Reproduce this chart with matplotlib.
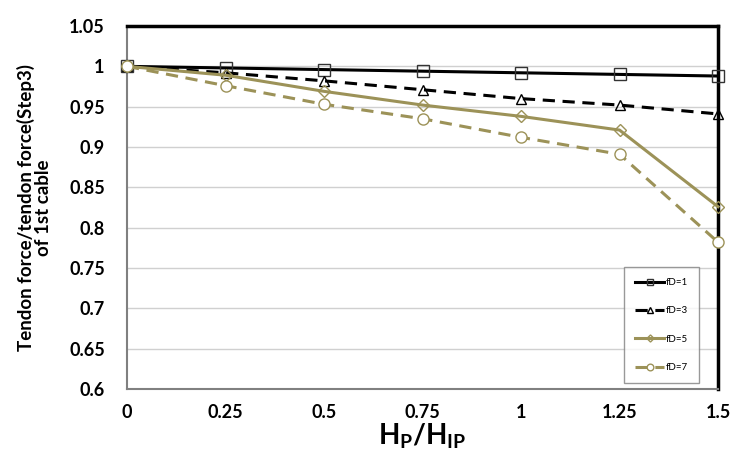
import matplotlib
matplotlib.use("Agg")
import matplotlib.pyplot as plt

x = [0, 0.25, 0.5, 0.75, 1, 1.25, 1.5]
fd1 = [1.0, 0.998, 0.996, 0.994, 0.992, 0.990, 0.988]
fd3 = [1.0, 0.992, 0.982, 0.971, 0.960, 0.952, 0.941]
fd5 = [1.0, 0.989, 0.969, 0.952, 0.938, 0.921, 0.826]
fd7 = [1.0, 0.976, 0.953, 0.935, 0.912, 0.891, 0.782]
labels = ["fD=1", "fD=3", "fD=5", "fD=7"]
xticks = [0, 0.25, 0.5, 0.75, 1, 1.25, 1.5]
xticklabels = ["0", "0.25", "0.5", "0.75", "1", "1.25", "1.5"]
yticks = [0.6, 0.65, 0.7, 0.75, 0.8, 0.85, 0.9, 0.95, 1.0, 1.05]
yticklabels = ["0.6", "0.65", "0.7", "0.75", "0.8", "0.85", "0.9", "0.95", "1", "1.05"]

plt.rcParams['font.family'] = ['Lato', 'DejaVu Sans']
plt.rcParams['mathtext.fontset'] = 'custom'
plt.rcParams['mathtext.bf'] = 'Lato:bold'
plt.rcParams['mathtext.rm'] = 'Lato'
olive = '#9c9258'

fig = plt.figure(figsize=(7.45, 4.62), dpi=100)
ax = fig.add_axes([0.1705, 0.158, 0.7933, 0.7857])

ax.plot(x, fd1, color='black', lw=2.2, ls='-', marker='s', ms=8, mfc='none', mec='#333333', mew=1.0, label=labels[0], clip_on=False, zorder=5)
ax.plot(x, fd3, color='black', lw=2.2, ls=(0, (4, 2.5)), marker='^', ms=7, mfc='none', mec='black', mew=1.0, label=labels[1], clip_on=False, zorder=5)
ax.plot(x, fd5, color=olive, lw=2.2, ls='-', marker='D', ms=6, mfc='none', mec=olive, mew=1.0, label=labels[2], clip_on=False, zorder=5)
ax.plot(x, fd7, color=olive, lw=2.2, ls=(0, (4, 2.5)), marker='o', ms=8, mfc='white', mec=olive, mew=1.0, label=labels[3], clip_on=False, zorder=5)

ax.set_xlim(0, 1.5)
ax.set_ylim(0.6, 1.05)
ax.set_xticks(xticks)
ax.set_xticklabels(xticklabels, fontsize=13, fontweight='bold')
ax.set_yticks(yticks)
ax.set_yticklabels(yticklabels, fontsize=13, fontweight='bold')
ax.tick_params(length=0, pad=11)
ax.tick_params(axis='y', pad=16)
ax.grid(axis='y', color='#d0d0d0', lw=1)
ax.set_axisbelow(True)

for s in ['left', 'bottom']:
    ax.spines[s].set_color('#808080')
    ax.spines[s].set_linewidth(1.5)
for s in ['top', 'right']:
    ax.spines[s].set_color('black')
    ax.spines[s].set_linewidth(2.5)

ax.set_xlabel(r'$\mathbf{H_P/H_{IP}}$', fontsize=20, labelpad=0)
ax.set_ylabel('Tendon force/tendon force(Step3)\nof 1st cable', fontsize=13.5, fontweight='bold', labelpad=12, linespacing=1.0)

leg = ax.legend(loc='lower right', bbox_to_anchor=(0.968, 0.0165), borderaxespad=0, fontsize=7, frameon=True, fancybox=False,
                edgecolor='#808080', handlelength=3.0, markerscale=0.6, labelspacing=2.0, borderpad=1.1, handletextpad=0.2)
leg.get_frame().set_linewidth(1.0)

fig.savefig('out.png', dpi=100)
